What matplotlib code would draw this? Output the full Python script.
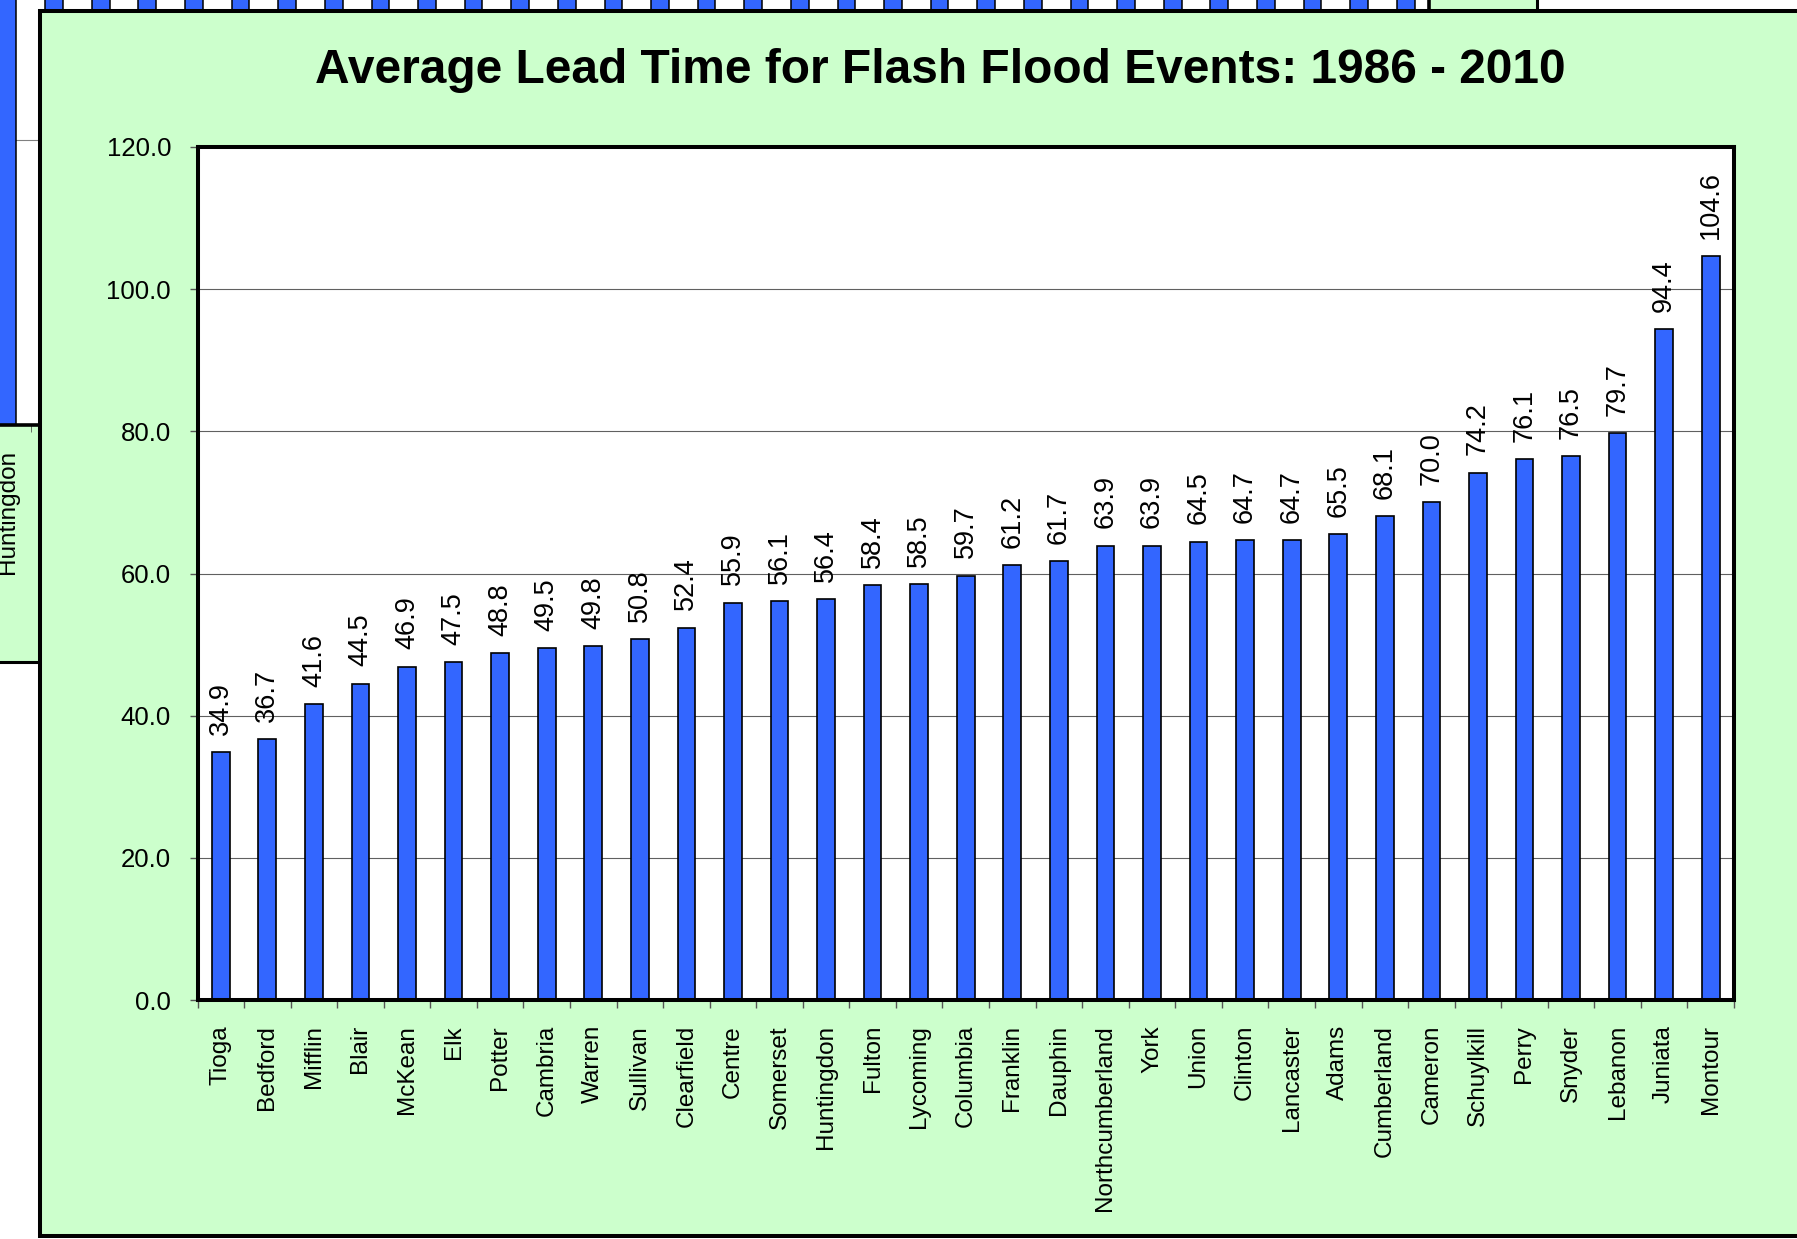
import numpy as np
import matplotlib
matplotlib.use("Agg")
import matplotlib.pyplot as plt
from matplotlib.patches import Rectangle

plt.rcParams['font.family'] = ['Liberation Sans', 'DejaVu Sans']

# ---- data ----
counties = ["Tioga", "Bedford", "Mifflin", "Blair", "McKean", "Elk", "Potter",
            "Cambria", "Warren", "Sullivan", "Clearfield", "Centre", "Somerset",
            "Huntingdon", "Fulton", "Lycoming", "Columbia", "Franklin", "Dauphin",
            "Northcumberland", "York", "Union", "Clinton", "Lancaster", "Adams",
            "Cumberland", "Cameron", "Schuylkill", "Perry", "Snyder", "Lebanon",
            "Juniata", "Montour"]
lead_time = [34.9, 36.7, 41.6, 44.5, 46.9, 47.5, 48.8, 49.5, 49.8, 50.8, 52.4,
             55.9, 56.1, 56.4, 58.4, 58.5, 59.7, 61.2, 61.7, 63.9, 63.9, 64.5,
             64.7, 64.7, 65.5, 68.1, 70.0, 74.2, 76.1, 76.5, 79.7, 94.4, 104.6]
y_ticks = [0, 20, 40, 60, 80, 100, 120]
title = "Average Lead Time for Flash Flood Events: 1986 - 2010"

BLUE = "#3366FF"
GREEN = "#CCFFCC"

W, H = 1797, 1239
def fx(px): return px / W
def fy(py): return 1 - py / H

fig = plt.figure(figsize=(W / 100, H / 100), dpi=100)
fig.patch.set_facecolor("white")

# ---- partially hidden chart behind (page artefact) ----
bg_panel = Rectangle((-0.1, fy(662)), fx(1537) + 0.1, 1.1 - fy(662),
                     transform=fig.transFigure, facecolor=GREEN,
                     edgecolor="black", linewidth=2.2, zorder=-3)
fig.add_artist(bg_panel)

shift = 2 - counties.index("Huntingdon")
bg_names = list(np.roll(counties, shift))
bg_vals = list(np.roll(lead_time, shift))
axb = fig.add_axes([fx(-109), fy(425), 1538 / W, 570 / H], zorder=-2)
xb = np.arange(len(bg_names))
axb.bar(xb, bg_vals, width=0.38, color=BLUE, edgecolor="black", linewidth=1.1)
axb.set_xlim(-0.5, len(bg_names) - 0.5)
axb.set_ylim(0, 40)
axb.set_yticks([0, 20, 40])
axb.set_yticklabels([])
axb.yaxis.grid(True, color="#808080", linewidth=0.8)
axb.set_axisbelow(True)
axb.set_xticks([2])
axb.set_xticklabels(["Huntingdon"], rotation=90, fontsize=17.5, va="top")
axb.set_xticks(np.arange(len(bg_names) + 1) - 0.5, minor=True)
axb.tick_params(axis="x", which="major", length=0, pad=18)
axb.tick_params(axis="x", which="minor", length=5, color="#555555", direction="out")
for s in axb.spines.values():
    s.set_linewidth(2.6)

# ---- main panel ----
panel = Rectangle((fx(39.5), fy(1235.5)), 1.1 - fx(39.5), fy(11) - fy(1235.5),
                  transform=fig.transFigure, facecolor=GREEN,
                  edgecolor="black", linewidth=2.9, zorder=-1)
fig.add_artist(panel)

ax = fig.add_axes([fx(197.5), fy(1000), (1734 - 197.5) / W, (1000 - 147) / H], zorder=0)
x = np.arange(len(counties))
ax.bar(x, lead_time, width=0.38, color=BLUE, edgecolor="black", linewidth=1.2, zorder=3)
ax.set_xlim(-0.5, len(counties) - 0.5)
ax.set_ylim(0, 120)
ax.set_yticks(y_ticks)
ax.set_yticklabels([f"{v:.1f}" for v in y_ticks], fontsize=18.5)
ax.yaxis.grid(True, color="#606060", linewidth=0.8, zorder=1)
ax.set_axisbelow(True)
ax.set_xticks(x)
ax.set_xticklabels(counties, rotation=90, fontsize=17.5, va="top")
ax.set_xticks(np.arange(len(counties) + 1) - 0.5, minor=True)
ax.tick_params(axis="x", which="major", length=0, pad=18)
ax.tick_params(axis="x", which="minor", length=6, width=1, color="#555555", direction="out")
ax.tick_params(axis="y", length=6, width=1, color="#555555", direction="out", pad=13)
for s in ax.spines.values():
    s.set_linewidth(2.9)
    s.set_zorder(5)

for xi, v in zip(x, lead_time):
    ax.annotate(f"{v:.1f}", (xi, v), xytext=(0, 12.5), textcoords="offset points",
                rotation=90, ha="center", va="bottom", fontsize=19.5)

fig.text(fx(940), fy(83), title, ha="center", va="baseline",
         fontsize=34.5, fontweight="bold")

fig.savefig("out.png", dpi=100)
